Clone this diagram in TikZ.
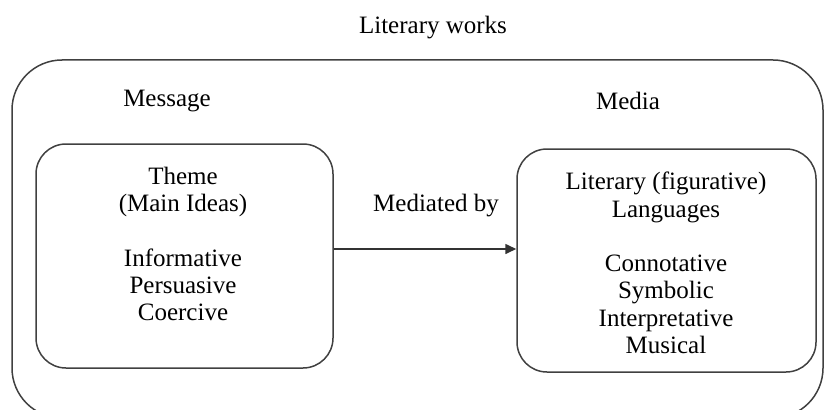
\documentclass[tikz,border=0pt]{standalone}
\usepackage{fontspec}
\setmainfont{Liberation Serif}
\usetikzlibrary{arrows.meta}
\begin{document}
\begin{tikzpicture}[x=1pt,y=-1pt,
  frame/.style={draw=black!75, line width=1.5pt},
  box/.style={frame, rounded corners=30pt, inner sep=0pt},
  lbl/.style={font=\fontsize{25}{27.3}\selectfont, text=black, inner sep=0pt, align=center},
  conn/.style={draw=black!80, line width=1.6pt, -{Triangle[length=11pt,width=10pt]}}]
  \useasboundingbox (0,0) rectangle (826,409);
  \begin{scope}
    \clip (0,0) rectangle (826,409);
    % outer frame, running past the lower edge
    \draw[frame, rounded corners=50pt] (12,60) rectangle (823,418);
  \end{scope}
  \node[lbl] (title) at (433,28) {Literary works};
  \node[lbl] (msg) at (167,101) {Message};
  \node[lbl] (media) at (628,101) {Media};
  % inner boxes
  \node[box, minimum width=297pt, minimum height=224pt] (theme) at (184.5,256) {};
  \node[box, minimum width=299pt, minimum height=223pt] (lang) at (666.5,260.5) {};
  \node[lbl, anchor=north] (themetxt) at (183,167) {Theme\\(Main Ideas)\\[27pt]Informative\\Persuasive\\Coercive};
  \node[lbl, anchor=north] (langtxt) at (666,172) {Literary (figurative)\\Languages\\[27pt]Connotative\\Symbolic\\Interpretative\\Musical};
  \node[lbl] (via) at (436,206) {Mediated by};
  \draw[conn] (theme.east |- 0,249) -- (lang.west |- 0,249);
\end{tikzpicture}
\end{document}
